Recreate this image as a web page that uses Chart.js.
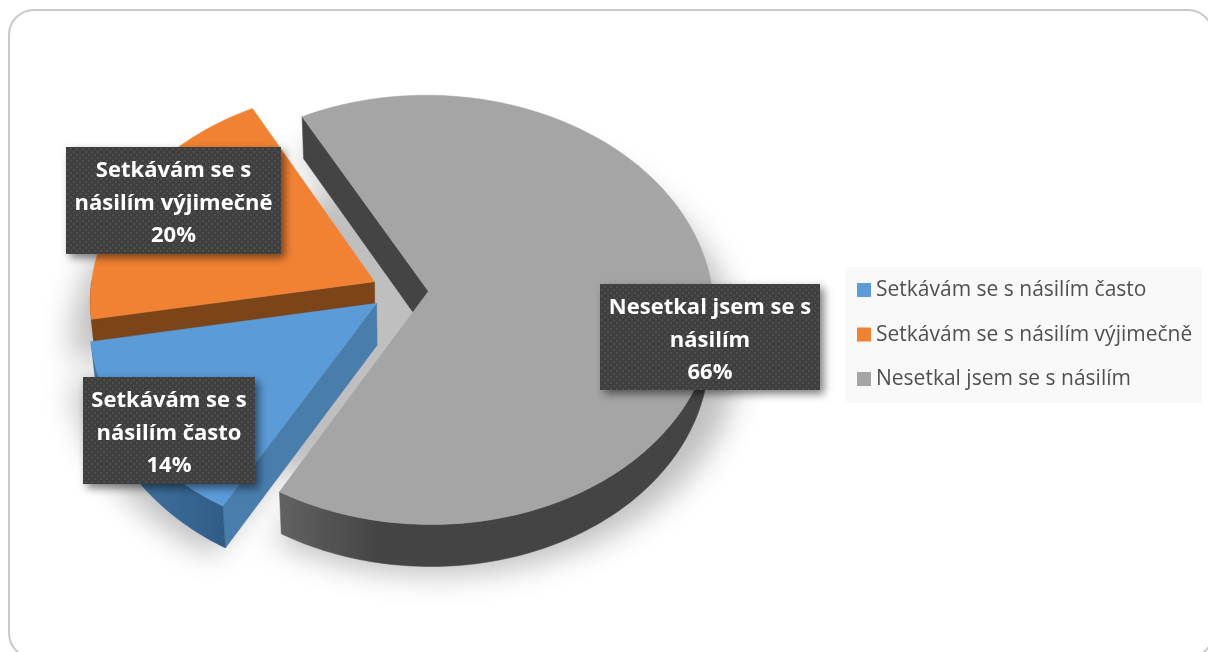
<!DOCTYPE html>
<html lang="cs">
<head>
<meta charset="utf-8">
<title>Setkávání s násilím</title>
<script src="https://cdn.jsdelivr.net/npm/chart.js@4"></script>
<style>
  html, body { margin: 0; padding: 0; width: 1208px; height: 652px; overflow: hidden; background: #fff; }
  #frame { position: absolute; left: 8px; top: 9px; width: 1206px; height: 650px; box-sizing: border-box;
           border: 2px solid #c9c9c9; border-radius: 26px; }
  #myChart { position: absolute; left: 0; top: 0; }
</style>
</head>
<body>
<div id="frame"></div>
<canvas id="myChart" width="1208" height="652"></canvas>
<script>
const categories = ["Setkávám se s násilím často", "Setkávám se s násilím výjimečně", "Nesetkal jsem se s násilím"];
const values = [14, 20, 66];
const colors = ["#5b9bd8", "#f28233", "#a5a5a5"];
const cutColors = ["#487dac", "#7c4419", "#444444"];
const wrappedLabels = [["Setkávám se s", "násilím často"], ["Setkávám se s", "násilím výjimečně"], ["Nesetkal jsem se s", "násilím"]];

const FONT = '"Open Sans", sans-serif';

// tilted view of the pie plane
const TILT = 0.75;
const PERSPECTIVE = 3279;
const DEPTH = 42;

function project(cx, cy, X, Y, down) {
  const s = 1 / (1 - Y / PERSPECTIVE);
  return [cx + X * s * (down ? 0.985 : 1), cy + Y * TILT * s + (down ? DEPTH : 0)];
}

// outline of one slice on the plane, taken from the arc element
function sliceOutline(el) {
  const p = el.getProps(["x", "y", "startAngle", "endAngle", "outerRadius"], true);
  const mid = (p.startAngle + p.endAngle) / 2;
  const off = el.options.offset;
  const tip = [Math.cos(mid) * off, Math.sin(mid) * off];
  const arc = [];
  const steps = Math.ceil((p.endAngle - p.startAngle) / 0.02);
  for (let i = 0; i <= steps; i++) {
    const a = p.startAngle + (p.endAngle - p.startAngle) * i / steps;
    arc.push([tip[0] + Math.cos(a) * p.outerRadius, tip[1] + Math.sin(a) * p.outerRadius]);
  }
  return { cx: p.x, cy: p.y, r: p.outerRadius, tip, arc };
}

function polygon(ctx, pts) {
  pts.forEach((pt, i) => (i ? ctx.lineTo(pt[0], pt[1]) : ctx.moveTo(pt[0], pt[1])));
  ctx.closePath();
}

function fillPoly(ctx, pts, fill) {
  ctx.beginPath();
  polygon(ctx, pts);
  ctx.fillStyle = fill;
  ctx.fill();
  // hairline so neighbouring faces do not show a seam
  ctx.strokeStyle = fill;
  ctx.lineWidth = 0.5;
  ctx.stroke();
}

function sideGradient(ctx, x0, x1, from, to) {
  const g = ctx.createLinearGradient(x0, 0, x1, 0);
  g.addColorStop(0, from);
  g.addColorStop(1, to);
  return g;
}

// a cut face only shows when the slice lies above that edge on screen
function cutVisible(a, b, inner) {
  const ex = b[0] - a[0];
  const ey = b[1] - a[1];
  const side = ex * (inner[1] - a[1]) - ey * (inner[0] - a[0]);
  return side * ex < 0;
}

function drawShadow(ctx, shapes) {
  const scaled = (s, q) => project(s.cx, s.cy, q[0] * 1.07, q[1] * 1.04, false);
  ctx.save();
  ctx.shadowColor = "rgba(0,0,0,0.25)";
  ctx.shadowBlur = 30;
  ctx.shadowOffsetX = 3000 + 3;
  ctx.shadowOffsetY = 40;
  ctx.translate(-3000, 0);
  ctx.beginPath();
  shapes.forEach((s) => polygon(ctx, [s.tip, ...s.arc].map((q) => scaled(s, q))));
  // fills the middle, so the gaps between slices stay grey
  const s0 = shapes[0];
  const disc = [];
  for (let i = 0; i < 120; i++) {
    const a = (i / 120) * Math.PI * 2;
    disc.push([Math.cos(a) * s0.r * 0.72, Math.sin(a) * s0.r * 0.72]);
  }
  polygon(ctx, disc.map((q) => project(s0.cx, s0.cy, q[0], q[1], false)));
  ctx.fillStyle = "#000";
  ctx.fill("nonzero");
  ctx.restore();
}

const pie3d = {
  id: "pie3d",
  beforeDatasetDraw(chart, args) {
    const ctx = chart.ctx;
    const arcs = args.meta.data;
    const shapes = arcs.map(sliceOutline);

    drawShadow(ctx, shapes);

    // orange sits behind the others, blue overlaps its cut face
    [1, 2, 0].forEach((i) => {
      const s = shapes[i];
      const up = (q) => project(s.cx, s.cy, q[0], q[1], false);
      const dn = (q) => project(s.cx, s.cy, q[0], q[1], true);
      const first = s.arc[0];
      const last = s.arc[s.arc.length - 1];
      const inner = up(s.arc[Math.floor(s.arc.length / 2)]);

      if (cutVisible(up(s.tip), up(first), inner)) {
        fillPoly(ctx, [up(s.tip), up(first), dn(first), dn(s.tip)], cutColors[i]);
      }
      if (cutVisible(up(s.tip), up(last), inner)) {
        fillPoly(ctx, [up(s.tip), up(last), dn(last), dn(s.tip)], cutColors[i]);
      }

      const front = s.arc.filter((q) => q[1] - s.tip[1] > -2);
      if (front.length > 1) {
        let rimFill = cutColors[i];
        if (i === 0) rimFill = sideGradient(ctx, 120, 224, "#4174a3", "#305d87");
        if (i === 2) rimFill = sideGradient(ctx, 277, 380, "#636363", "#444444");
        fillPoly(ctx, [...front.map(up), ...front.slice().reverse().map(dn)], rimFill);
      }

      fillPoly(ctx, [s.tip, ...s.arc].map(up), arcs[i].options.backgroundColor);
    });
    return false;
  },
  afterDatasetsDraw(chart) {
    drawDataLabels(chart);
    drawLegend(chart);
  },
};

// dotted fill of the value labels
function dotPattern(ctx) {
  const c = document.createElement("canvas");
  c.width = 6;
  c.height = 6;
  const g = c.getContext("2d");
  g.fillStyle = "#3f3f3f";
  g.fillRect(0, 0, 6, 6);
  g.fillStyle = "#4e4e4e";
  g.fillRect(1, 1, 2, 2);
  g.fillRect(4, 4, 2, 2);
  return ctx.createPattern(c, "repeat");
}

function drawDataLabels(chart) {
  const ctx = chart.ctx;
  const boxes = [[83, 377, 172, 107], [66, 147, 215, 107], [600, 284, 220, 106]];
  const pattern = dotPattern(ctx);
  values.forEach((v, i) => {
    const [x, y, w, h] = boxes[i];
    ctx.save();
    ctx.shadowColor = "rgba(0,0,0,0.5)";
    ctx.shadowBlur = 9;
    ctx.shadowOffsetX = 4;
    ctx.shadowOffsetY = 4;
    ctx.fillStyle = pattern;
    ctx.fillRect(x, y, w, h);
    ctx.restore();

    ctx.fillStyle = "#ffffff";
    ctx.font = "bold 22px " + FONT;
    ctx.textAlign = "center";
    ctx.textBaseline = "middle";
    [...wrappedLabels[i], v + "%"].forEach((line, n) => {
      ctx.fillText(line, x + w / 2, y + 24 + n * 32.5);
    });
  });
}

function drawLegend(chart) {
  const ctx = chart.ctx;
  ctx.fillStyle = "#f9f9f9";
  ctx.fillRect(845, 267, 357, 136);
  categories.forEach((name, i) => {
    const y = 290 + i * 44.5;
    ctx.fillStyle = colors[i];
    ctx.fillRect(857, y - 7, 14, 14);
    ctx.fillStyle = "#505050";
    ctx.font = "21px " + FONT;
    ctx.textAlign = "left";
    ctx.textBaseline = "middle";
    ctx.fillText(name, 876, y + 0.5);
  });
}

const ctx = document.getElementById("myChart");
const myChart = new Chart(ctx, {
  type: "pie",
  data: {
    labels: categories,
    datasets: [
      {
        data: values,
        backgroundColor: colors,
        borderWidth: 0,
        offset: 28.4,
      },
    ],
  },
  options: {
    responsive: false,
    animation: false,
    rotation: 209.5,
    radius: 284,
    layout: { padding: { right: 408, bottom: 70 } },
    plugins: {
      legend: { display: false },
      tooltip: { enabled: false },
    },
  },
  plugins: [pie3d],
});
</script>
</body>
</html>
